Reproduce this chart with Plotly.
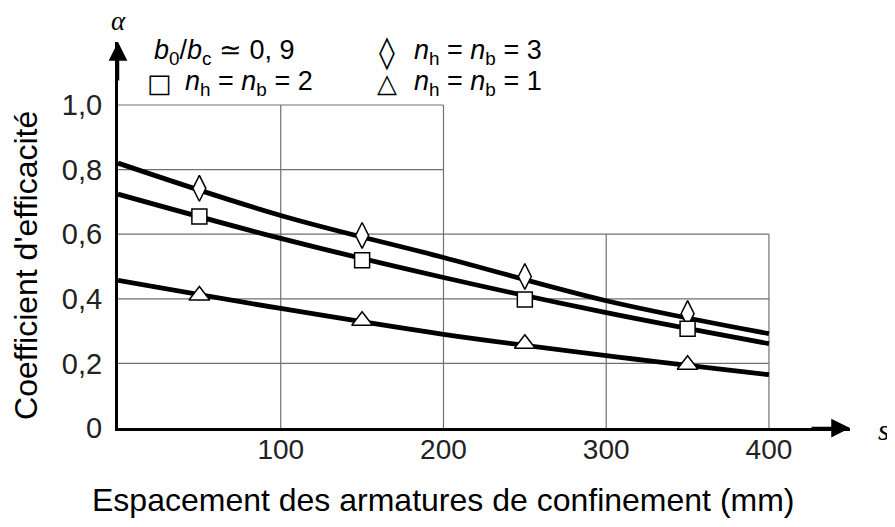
import plotly.graph_objects as go

# ---- data ----
curve_x = [0, 100, 200, 300, 400]
curve_n3 = [0.82, 0.658, 0.528, 0.394, 0.292]
curve_n2 = [0.724, 0.587, 0.466, 0.357, 0.261]
curve_n1 = [0.457, 0.370, 0.290, 0.224, 0.165]

pts_x = [50, 150, 250, 350]
pts_n3 = [0.742, 0.596, 0.469, 0.354]
pts_n2 = [0.655, 0.519, 0.398, 0.307]
pts_n1 = [0.410, 0.332, 0.261, 0.196]

x_ticks = [100, 200, 300, 400]
x_tick_labels = ["100", "200", "300", "400"]
y_ticks = [0, 0.2, 0.4, 0.6, 0.8, 1.0]
y_tick_labels = ["0", "0,2", "0,4", "0,6", "0,8", "1,0"]
# stepped grid: vertical lines reach up to these y; horizontal lines reach these x
x_grid_top = [1.0, 1.0, 0.6, 0.6]
y_grid_vals = [0.2, 0.4, 0.6, 0.8, 1.0]
y_grid_right = [400, 400, 400, 200, 200]

FONT = "Liberation Sans"

fig = go.Figure()

for ys in (curve_n3, curve_n2, curve_n1):
    fig.add_trace(go.Scatter(x=curve_x, y=ys, mode="lines",
                             line=dict(color="black", width=4.8, shape="spline", smoothing=1.0),
                             showlegend=False, hoverinfo="skip"))

marker_common = dict(color="white", line=dict(color="black", width=1.5))
fig.add_trace(go.Scatter(x=pts_x, y=pts_n3, mode="markers",
                         marker=dict(symbol="diamond-tall", size=18.5, **marker_common),
                         showlegend=False, cliponaxis=False))
fig.add_trace(go.Scatter(x=pts_x, y=pts_n2, mode="markers",
                         marker=dict(symbol="square", size=15, **marker_common),
                         showlegend=False, cliponaxis=False))
fig.add_trace(go.Scatter(x=pts_x, y=pts_n1, mode="markers",
                         marker=dict(symbol="triangle-up", size=18, **marker_common),
                         showlegend=False, cliponaxis=False))

shapes = []
grid_style = dict(color="#707070", width=1.2)
for xv, top in zip(x_ticks, x_grid_top):
    shapes.append(dict(type="line", xref="x", yref="y", x0=xv, x1=xv, y0=0, y1=top,
                       line=grid_style, layer="below"))
for yv, right in zip(y_grid_vals, y_grid_right):
    shapes.append(dict(type="line", xref="x", yref="y", x0=0, x1=right, y0=yv, y1=yv,
                       line=grid_style, layer="below"))

C = dict(xanchor="center", yanchor="middle")
annotations = [
    # axis arrows
    dict(xref="paper", yref="paper", x=1, y=0, ax=-40, ay=0, text="", showarrow=True,
         arrowhead=2, arrowsize=1.5, arrowwidth=2.5, arrowcolor="black"),
    dict(xref="paper", yref="paper", x=0, y=1, ax=0, ay=40, text="", showarrow=True,
         arrowhead=2, arrowsize=1.5, arrowwidth=2.5, arrowcolor="black"),
    # axis symbols
    dict(xref="paper", yref="paper", x=0, y=1.055, text="<i>α</i>", showarrow=False,
         font=dict(family="Liberation Serif", size=27, color="black"), **C),
    dict(xref="paper", yref="paper", x=1.046, y=-0.005, text="<i>s</i>", showarrow=False,
         font=dict(family="Liberation Serif", size=30, color="black"), **C),
    # titles
    dict(xref="paper", yref="paper", x=-0.126, y=0.422, text="Coefficient d'efficacité",
         textangle=-90, showarrow=False, font=dict(family=FONT, size=32, color="black"), **C),
    dict(xref="paper", yref="paper", x=0.444, y=-0.187, text="Espacement des armatures de confinement (mm)",
         showarrow=False, font=dict(family=FONT, size=32, color="black"), **C),
]

def px2paper(px, py):
    return (px - 118) / 732, (428 - py) / 386

leg_font = dict(family=FONT, size=27, color="black")
sym_font = dict(family="DejaVu Sans", size=26, color="black")
dia_font = dict(family="DejaVu Sans", size=32, color="black")
legend_items = [
    (152, 52, "<i>b</i><sub>0</sub>/<i>b</i><sub>c</sub> ≃ 0, 9", "left", leg_font),
    (387, 52, "◊", "center", dia_font),
    (412, 52, "<i>n</i><sub>h</sub> = <i>n</i><sub>b</sub> = 3", "left", leg_font),
    (159, 83, "□", "center", sym_font),
    (183, 83, "<i>n</i><sub>h</sub> = <i>n</i><sub>b</sub> = 2", "left", leg_font),
    (387, 83, "△", "center", sym_font),
    (412, 83, "<i>n</i><sub>h</sub> = <i>n</i><sub>b</sub> = 1", "left", leg_font),
]
for px, py, txt, anchor, f in legend_items:
    xp, yp = px2paper(px, py)
    annotations.append(dict(xref="paper", yref="paper", x=xp, y=yp, text=txt, xanchor=anchor,
                            yanchor="middle", showarrow=False, font=f))

fig.update_layout(
    width=895, height=527,
    margin=dict(l=110, r=53, t=34, b=107),
    plot_bgcolor="white", paper_bgcolor="white",
    shapes=shapes, annotations=annotations,
    xaxis=dict(range=[0, 449.8], tickvals=x_ticks, ticktext=x_tick_labels,
               showgrid=False, zeroline=False, showline=True, linecolor="black", linewidth=3,
               ticks="", ticklabelstandoff=-6,
               tickfont=dict(family=FONT, size=28, color="#222")),
    yaxis=dict(range=[0, 1.195], tickvals=y_ticks, ticktext=y_tick_labels,
               showgrid=False, zeroline=False, showline=True, linecolor="black", linewidth=3,
               ticks="outside", ticklen=7, tickcolor="rgba(0,0,0,0)",
               tickfont=dict(family=FONT, size=29, color="#222")),
)

fig.write_html("out.html")
